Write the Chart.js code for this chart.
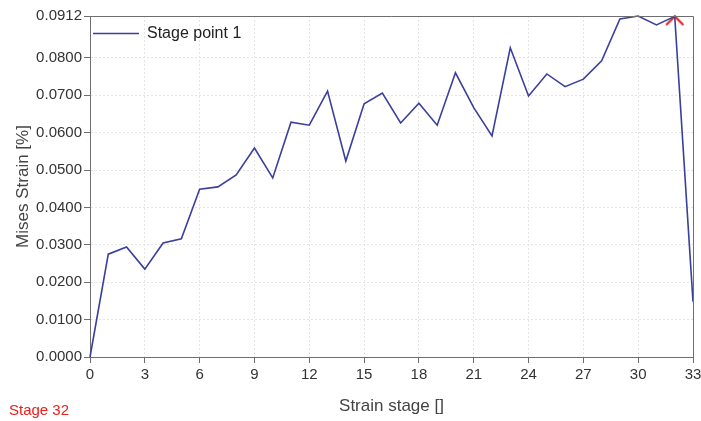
<!DOCTYPE html>
<html>
<head>
<meta charset="utf-8">
<script src="https://cdn.jsdelivr.net/npm/chart.js@4/dist/chart.umd.min.js"></script>
<style>
html,body{margin:0;padding:0;background:#fff;}
#wrap{width:701px;height:421px;}
</style>
</head>
<body>
<div id="wrap"><canvas id="c" width="701" height="421"></canvas></div>
<script>
// ---- data ----
const stages = [0,1,2,3,4,5,6,7,8,9,10,11,12,13,14,15,16,17,18,19,20,21,22,23,24,25,26,27,28,29,30,31,32,33];
const strain = [0.0000,0.0275,0.0294,0.0235,0.0305,0.0316,0.0449,0.0455,0.0487,0.0559,0.0479,0.0628,0.0620,0.0711,0.0524,0.0677,0.0706,0.0626,0.0679,0.0620,0.0760,0.0667,0.0591,0.0827,0.0698,0.0757,0.0723,0.0743,0.0792,0.0904,0.0912,0.0888,0.0911,0.0148];
const markerStage = [32];
const markerValue = [0.0911];
const yTicks = [0.0000,0.0100,0.0200,0.0300,0.0400,0.0500,0.0600,0.0700,0.0800,0.0912];
const xTicks = [0,3,6,9,12,15,18,21,24,27,30,33];
const seriesLabel = 'Stage point 1';
const stageText = 'Stage 32';

// caret point style
const caret = document.createElement('canvas');
caret.width = 20; caret.height = 20;
(function(){
  const g = caret.getContext('2d');
  g.strokeStyle = '#e3201c'; g.lineWidth = 2.2; g.lineCap='round'; g.lineJoin='miter';
  g.beginPath(); g.moveTo(2,18); g.lineTo(10,10); g.lineTo(18,18); g.stroke();
})();

const FONT = '"Liberation Sans", Arial, sans-serif';

const boxPlugin = {
  id: 'boxAndText',
  afterDraw(chart) {
    const {ctx, chartArea: a} = chart;
    ctx.save();
    ctx.strokeStyle = '#6e6e6e'; ctx.lineWidth = 1;
    ctx.beginPath();
    ctx.moveTo(a.left, a.top + 0.5); ctx.lineTo(a.right + 0.5, a.top + 0.5); ctx.lineTo(a.right + 0.5, a.bottom);
    ctx.stroke();
    // legend inside plot
    const ds = chart.data.datasets[0];
    ctx.strokeStyle = ds.borderColor; ctx.lineWidth = 1.6;
    ctx.beginPath(); ctx.moveTo(a.left + 3, a.top + 17.5); ctx.lineTo(a.left + 49, a.top + 17.5); ctx.stroke();
    ctx.fillStyle = '#222'; ctx.font = '16px ' + FONT; ctx.textBaseline = 'middle'; ctx.textAlign = 'left';
    ctx.fillText(ds.label, a.left + 57, a.top + 17.5);
    // stage text
    ctx.fillStyle = '#e8201c'; ctx.font = '15px ' + FONT;
    ctx.fillText(stageText, 9, 411);
    ctx.restore();
  }
};

function noSidePad(s) { s.paddingRight = 0; s.paddingLeft = 0; }

new Chart(document.getElementById('c'), {
  type: 'line',
  data: {
    datasets: [
      {
        label: seriesLabel,
        data: stages.map((s, i) => ({x: s, y: strain[i]})),
        borderColor: '#3b3f9c',
        borderWidth: 1.6,
        pointRadius: 0,
        tension: 0,
        fill: false,
        clip: false
      },
      {
        label: 'marker',
        data: markerStage.map((s, i) => ({x: s, y: markerValue[i]})),
        showLine: false,
        pointStyle: caret,
        pointRadius: 10,
        clip: false
      }
    ]
  },
  options: {
    responsive: false,
    animation: false,
    layout: {autoPadding: false, padding: {left: 0, right: 8, top: 16, bottom: 0}},
    plugins: {legend: {display: false}, tooltip: {enabled: false}},
    scales: {
      x: {
        type: 'linear', min: 0, max: 33,
        afterBuildTicks(s) { s.ticks = xTicks.map(v => ({value: v})); },
        afterFit(s) { s.height = 64; noSidePad(s); },
        ticks: {color: '#333', font: {size: 15, family: FONT}, padding: 3, maxRotation: 0, autoSkip: false},
        grid: {color: '#e4e4e4', tickColor: '#6e6e6e', tickLength: 6, lineWidth: 1},
        border: {color: '#6e6e6e', width: 1, dash: [2, 2]},
        title: {display: true, text: 'Strain stage []', color: '#444', font: {size: 17, family: FONT}, padding: {top: 4}}
      },
      y: {
        type: 'linear', min: 0, max: 0.0912,
        afterBuildTicks(s) { s.ticks = yTicks.map(v => ({value: v})); },
        afterFit(s) { s.width = 90; },
        ticks: {color: '#333', font: {size: 15, family: FONT}, padding: 2, callback: v => v.toFixed(4), autoSkip: false},
        grid: {color: '#e4e4e4', tickColor: '#6e6e6e', tickLength: 6, lineWidth: 1},
        border: {color: '#6e6e6e', width: 1, dash: [2, 2]},
        title: {display: true, text: 'Mises Strain [%]', color: '#444', font: {size: 17, family: FONT}, padding: {top: 13, bottom: 0}}
      }
    }
  },
  plugins: [boxPlugin]
});
</script>
</body>
</html>
